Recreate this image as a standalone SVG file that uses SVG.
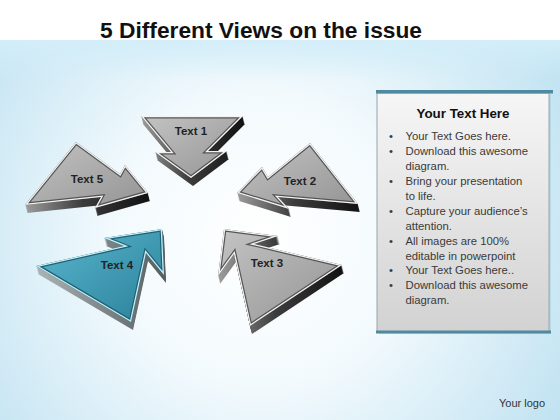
<svg xmlns="http://www.w3.org/2000/svg" xmlns:xlink="http://www.w3.org/1999/xlink" width="560" height="420" viewBox="0 0 560 420">
<defs>
<radialGradient id="bg" cx="260" cy="240" r="360" gradientUnits="userSpaceOnUse">
<stop offset="0" stop-color="#ffffff"/>
<stop offset="0.4" stop-color="#f3fafd"/>
<stop offset="1" stop-color="#bde1f1"/>
</radialGradient>
<linearGradient id="topfade" x1="0" y1="0" x2="0" y2="1">
<stop offset="0" stop-color="#d3eef9"/>
<stop offset="1" stop-color="#d3eef9" stop-opacity="0"/>
</linearGradient>
<linearGradient id="face" x1="0" y1="0" x2="1" y2="1">
<stop offset="0" stop-color="#c4c4c4"/>
<stop offset="1" stop-color="#939393"/>
</linearGradient>
<linearGradient id="faceC" x1="0" y1="0" x2="1" y2="1">
<stop offset="0" stop-color="#5ab8cf"/>
<stop offset="1" stop-color="#2a7f99"/>
</linearGradient>
<linearGradient id="side" x1="0" y1="0" x2="1" y2="0">
<stop offset="0" stop-color="#9a9a9a"/>
<stop offset="0.45" stop-color="#3c3c3c"/>
<stop offset="1" stop-color="#111111"/>
</linearGradient>
<linearGradient id="sideC" x1="0" y1="0" x2="1" y2="0">
<stop offset="0" stop-color="#aab2b4"/>
<stop offset="1" stop-color="#555d60"/>
</linearGradient>
<linearGradient id="panel" x1="0" y1="0" x2="0" y2="1">
<stop offset="0" stop-color="#f6f6f6"/>
<stop offset="1" stop-color="#d2d2d2"/>
</linearGradient>
<polygon id="p1" points="141,116 243,116 208,151 227,151 191,178 155,152 171,152"/>
<polygon id="p2" points="310,143 358,204 278,197 289,209 237,193 262,167 268,177"/>
<polygon id="p3" points="224,229 278,236 254,244 342,265 250,326 234,254 218,276"/>
<polygon id="p4" points="162,229 104,238 124,246 36,266 131,322 146,253 164,275"/>
<polygon id="p5" points="76,142 120,174 125,165 148,193 95,208 101,197 25,205"/>
<clipPath id="c1"><use xlink:href="#p1"/></clipPath>
<clipPath id="c2"><use xlink:href="#p2"/></clipPath>
<clipPath id="c3"><use xlink:href="#p3"/></clipPath>
<clipPath id="c4"><use xlink:href="#p4"/></clipPath>
<clipPath id="c5"><use xlink:href="#p5"/></clipPath>
</defs>
<style>
.lbl{font-family:"Liberation Sans",Arial,sans-serif;font-weight:bold;font-size:11.5px;fill:#222;text-anchor:middle}
.body{font-family:"Liberation Sans",Arial,sans-serif;font-size:11.3px;fill:#3a3a3a}
.side{fill:url(#side)}
.sideC{fill:url(#sideC)}
.face{fill:url(#face);stroke:#555555;stroke-width:5;stroke-linejoin:miter}
.faceC{fill:url(#faceC);stroke:#1d6274;stroke-width:5;stroke-linejoin:miter}
.hl{fill:none;stroke:#f2f2f2;stroke-width:2.6;stroke-linejoin:miter}
.hlC{fill:none;stroke:#c6eef7;stroke-width:2.6;stroke-linejoin:miter}
</style>

<rect x="0" y="0" width="560" height="420" fill="url(#bg)"/>
<rect x="0" y="40" width="560" height="40" fill="url(#topfade)"/>
<rect x="0" y="0" width="560" height="40" fill="#ffffff"/>

<text x="261" y="38" font-family="'Liberation Sans',Arial,sans-serif" font-weight="bold" font-size="22" fill="#111" text-anchor="middle" textLength="322" lengthAdjust="spacingAndGlyphs">5 Different Views on the issue</text>

<g id="node1">
<g class="side">
<use xlink:href="#p1" transform="translate(0.25,1)"/><use xlink:href="#p1" transform="translate(0.5,2)"/><use xlink:href="#p1" transform="translate(0.75,3)"/><use xlink:href="#p1" transform="translate(1,4)"/>
<use xlink:href="#p1" transform="translate(1.25,5)"/><use xlink:href="#p1" transform="translate(1.5,6)"/><use xlink:href="#p1" transform="translate(1.75,7)"/><use xlink:href="#p1" transform="translate(2,8)"/>
</g>
<g clip-path="url(#c1)"><use xlink:href="#p1" class="face"/><use xlink:href="#p1" class="hl"/></g>
<text class="lbl" x="191" y="135">Text 1</text>
</g>

<g id="node2">
<g class="side">
<use xlink:href="#p2" transform="translate(0.25,1)"/><use xlink:href="#p2" transform="translate(0.5,2)"/><use xlink:href="#p2" transform="translate(0.75,3)"/><use xlink:href="#p2" transform="translate(1,4)"/>
<use xlink:href="#p2" transform="translate(1.25,5)"/><use xlink:href="#p2" transform="translate(1.5,6)"/><use xlink:href="#p2" transform="translate(1.75,7)"/><use xlink:href="#p2" transform="translate(2,8)"/>
</g>
<g clip-path="url(#c2)"><use xlink:href="#p2" class="face"/><use xlink:href="#p2" class="hl"/></g>
<text class="lbl" x="300" y="185">Text 2</text>
</g>

<g id="node3">
<g class="side">
<use xlink:href="#p3" transform="translate(0.25,1)"/><use xlink:href="#p3" transform="translate(0.5,2)"/><use xlink:href="#p3" transform="translate(0.75,3)"/><use xlink:href="#p3" transform="translate(1,4)"/>
<use xlink:href="#p3" transform="translate(1.25,5)"/><use xlink:href="#p3" transform="translate(1.5,6)"/><use xlink:href="#p3" transform="translate(1.75,7)"/><use xlink:href="#p3" transform="translate(2,8)"/>
</g>
<g clip-path="url(#c3)"><use xlink:href="#p3" class="face"/><use xlink:href="#p3" class="hl"/></g>
<text class="lbl" x="267" y="267">Text 3</text>
</g>

<g id="node4">
<g class="sideC">
<use xlink:href="#p4" transform="translate(0.25,1)"/><use xlink:href="#p4" transform="translate(0.5,2)"/><use xlink:href="#p4" transform="translate(0.75,3)"/><use xlink:href="#p4" transform="translate(1,4)"/>
<use xlink:href="#p4" transform="translate(1.25,5)"/><use xlink:href="#p4" transform="translate(1.5,6)"/><use xlink:href="#p4" transform="translate(1.75,7)"/><use xlink:href="#p4" transform="translate(2,8)"/>
</g>
<g clip-path="url(#c4)"><use xlink:href="#p4" class="faceC"/><use xlink:href="#p4" class="hlC"/></g>
<text class="lbl" x="117" y="269">Text 4</text>
</g>

<g id="node5">
<g class="side">
<use xlink:href="#p5" transform="translate(0.25,1)"/><use xlink:href="#p5" transform="translate(0.5,2)"/><use xlink:href="#p5" transform="translate(0.75,3)"/><use xlink:href="#p5" transform="translate(1,4)"/>
<use xlink:href="#p5" transform="translate(1.25,5)"/><use xlink:href="#p5" transform="translate(1.5,6)"/><use xlink:href="#p5" transform="translate(1.75,7)"/><use xlink:href="#p5" transform="translate(2,8)"/>
</g>
<g clip-path="url(#c5)"><use xlink:href="#p5" class="face"/><use xlink:href="#p5" class="hl"/></g>
<text class="lbl" x="87" y="183">Text 5</text>
</g>

<g id="panel">
<rect x="379" y="95" width="172" height="239" fill="#9fc9da" opacity="0.5"/>
<rect x="377" y="93" width="172" height="239" fill="url(#panel)" stroke="#9aa4a8" stroke-width="1"/>
<rect x="376" y="90" width="177" height="3.5" fill="#4f8aa0"/>
<rect x="376" y="330.5" width="175" height="3" fill="#4f8aa0"/>
<text x="463" y="118" font-family="'Liberation Sans',Arial,sans-serif" font-weight="bold" font-size="13" fill="#111" text-anchor="middle" textLength="93" lengthAdjust="spacingAndGlyphs">Your Text Here</text>
<g class="body">
<text x="389" y="140">•</text><text x="405.5" y="140">Your Text Goes here.</text>
<text x="389" y="155">•</text><text x="405.5" y="155">Download this awesome</text>
<text x="405.5" y="170">diagram.</text>
<text x="389" y="185">•</text><text x="405.5" y="185">Bring your presentation</text>
<text x="405.5" y="200">to life.</text>
<text x="389" y="215">•</text><text x="405.5" y="215">Capture your audience’s</text>
<text x="405.5" y="230">attention.</text>
<text x="389" y="245">•</text><text x="405.5" y="245">All images are 100%</text>
<text x="405.5" y="260">editable in powerpoint</text>
<text x="389" y="274">•</text><text x="405.5" y="274">Your Text Goes here..</text>
<text x="389" y="289">•</text><text x="405.5" y="289">Download this awesome</text>
<text x="405.5" y="304">diagram.</text>
</g>
</g>

<text x="499" y="407" font-family="'Liberation Sans',Arial,sans-serif" font-size="11" fill="#333">Your logo</text>
</svg>
